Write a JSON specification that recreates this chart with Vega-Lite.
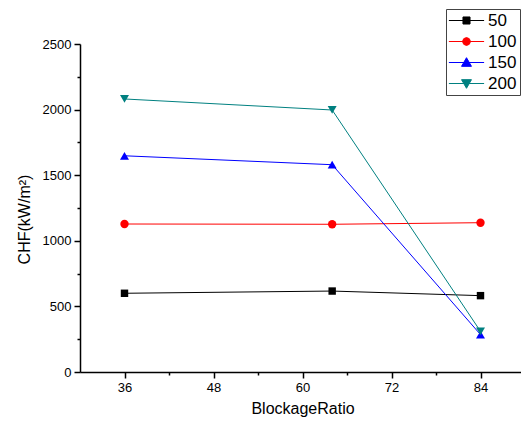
{
  "$schema": "https://vega.github.io/schema/vega-lite/v6.json",
  "autosize": {"type": "none"},
  "padding": {"left": 80, "top": 44, "right": 0, "bottom": 51},
  "width": 445,
  "height": 328,
  "background": "white",
  "config": {
    "view": {"stroke": null},
    "font": "Liberation Sans",
    "axis": {"labelFont": "Liberation Sans", "titleFont": "Liberation Sans", "labelColor": "black", "titleColor": "black", "domainColor": "black", "tickColor": "black", "titleFontWeight": "normal", "grid": false}
  },
  "data": {
    "values": [
      {"ratio": 36, "chf": 600, "series": 50},
      {"ratio": 64, "chf": 617, "series": 50},
      {"ratio": 84, "chf": 582, "series": 50},
      {"ratio": 36, "chf": 1128, "series": 100},
      {"ratio": 64, "chf": 1126, "series": 100},
      {"ratio": 84, "chf": 1138, "series": 100},
      {"ratio": 36, "chf": 1648, "series": 150},
      {"ratio": 64, "chf": 1580, "series": 150},
      {"ratio": 84, "chf": 285, "series": 150},
      {"ratio": 36, "chf": 2081, "series": 200},
      {"ratio": 64, "chf": 1997, "series": 200},
      {"ratio": 84, "chf": 310, "series": 200}
    ]
  },
  "encoding": {
    "x": {
      "field": "ratio", "type": "quantitative",
      "scale": {"domain": [30, 90], "nice": false, "zero": false},
      "axis": {
        "title": "BlockageRatio", "titleFontSize": 16, "titlePadding": 6,
        "values": [36, 42, 48, 54, 60, 66, 72, 78, 84],
        "labelExpr": "datum.value % 12 == 0 ? datum.label : ''",
        "tickSize": {"condition": {"test": "datum.value % 12 == 0", "value": 6}, "value": 3},
        "labelFontSize": 13, "labelPadding": 3, "domainWidth": 1.5, "tickWidth": 1.5, "labelFlush": false
      }
    },
    "y": {
      "field": "chf", "type": "quantitative",
      "scale": {"domain": [0, 2500], "nice": false},
      "axis": {
        "title": "CHF(kW/m²)", "titleFontSize": 16, "titlePadding": 10, "titleY": 175,
        "values": [0, 250, 500, 750, 1000, 1250, 1500, 1750, 2000, 2250, 2500],
        "format": "d",
        "labelExpr": "datum.value % 500 == 0 ? datum.label : ''",
        "tickSize": {"condition": {"test": "datum.value % 500 == 0", "value": 6}, "value": 3},
        "labelFontSize": 13, "labelPadding": 3, "domainWidth": 1.5, "tickWidth": 1.5, "labelFlush": false
      }
    }
  },
  "layer": [
    {
      "mark": {"type": "line", "strokeWidth": 1},
      "encoding": {
        "color": {
          "field": "series", "type": "nominal",
          "scale": {"domain": [50, 100, 150, 200], "range": ["#000000", "#FF0000", "#0000FF", "#008080"]},
          "legend": {
            "title": null, "orient": "none", "legendX": 366, "legendY": -35,
            "strokeColor": "#444444", "fillColor": "white", "padding": 3,
            "labelFontSize": 17, "labelFont": "Liberation Sans", "labelColor": "black",
            "symbolSize": 256, "rowPadding": 3, "labelOffset": 22,
            "encode": {
              "symbols": {"update": {
                "shape": {"signal": "datum.value == 50 ? 'M-2.2,0H2.2M-0.44,-0.44H0.44V0.44H-0.44Z' : datum.value == 100 ? 'M-2.2,0H2.2M0.5,0L0.35,0.35L0,0.5L-0.35,0.35L-0.5,0L-0.35,-0.35L0,-0.5L0.35,-0.35Z' : datum.value == 150 ? 'M-2.2,0H2.2M0,-0.6L0.62,0.48L-0.62,0.48Z' : 'M-2.2,0H2.2M0,0.6L0.62,-0.48L-0.62,-0.48Z'"},
                "size": {"value": 256},
                "x": {"value": 17.5},
                "fill": {"signal": "scale('color', datum.value)"},
                "stroke": {"signal": "scale('color', datum.value)"},
                "strokeWidth": {"value": 1},
                "opacity": {"value": 1}
              }}
            }
          }
        }
      }
    },
    {
      "transform": [{"filter": "datum.series == 50"}],
      "mark": {"type": "point", "filled": true, "opacity": 1, "shape": "square", "size": 55},
      "encoding": {"color": {"field": "series", "type": "nominal", "legend": null}}
    },
    {
      "transform": [{"filter": "datum.series == 100"}],
      "mark": {"type": "point", "filled": true, "opacity": 1, "shape": "circle", "size": 70},
      "encoding": {"color": {"field": "series", "type": "nominal", "legend": null}}
    },
    {
      "transform": [{"filter": "datum.series == 150"}],
      "mark": {"type": "point", "filled": true, "opacity": 1, "shape": "triangle-up", "size": 80},
      "encoding": {"color": {"field": "series", "type": "nominal", "legend": null}}
    },
    {
      "transform": [{"filter": "datum.series == 200"}],
      "mark": {"type": "point", "filled": true, "opacity": 1, "shape": "triangle-down", "size": 80},
      "encoding": {"color": {"field": "series", "type": "nominal", "legend": null}}
    }
  ]
}
